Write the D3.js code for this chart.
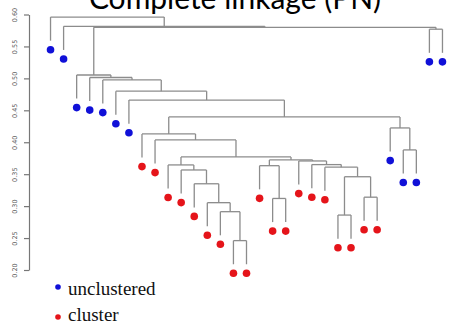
<!DOCTYPE html>
<html>
<head>
<meta charset="utf-8">
<script src="https://cdn.jsdelivr.net/npm/d3@7"></script>
<style>
  html, body { margin: 0; padding: 0; background: #fff; }
  svg { display: block; }
</style>
</head>
<body>
<svg id="chart" width="451" height="326"></svg>
<script>
// ---- data ----
const title = "Complete linkage (PN)";
// leaf groups in dendrogram display order (1..31)
const leafGroups = [
  "unclustered","unclustered","unclustered","unclustered","unclustered","unclustered","unclustered",
  "cluster","cluster","cluster","cluster","cluster","cluster","cluster","cluster","cluster",
  "cluster","cluster","cluster","cluster","cluster","cluster","cluster","cluster","cluster","cluster",
  "unclustered","unclustered","unclustered","unclustered","unclustered"
];
// hclust-style merges: negative = leaf index (1-based), positive = earlier merge row (1-based)
const mergeLeft  = [-15,-23,-14,-13,-18,-25,-12, 2,-11,-22,-17,-10,-21,-20,11,12,-28, -9, -8,-27,19,-7,-6,-5,-4,-3,-30,26,-2,-1];
const mergeRight = [-16,-24,  1,  3,-19,-26,  4, 6,  7,  8,  5,  9, 10, 13,14,15,-29, 16, 18, 17,20,21,22,23,24,25,-31,27,28,29];
const mergeHeight = [0.246,0.286,0.2913,0.3054,0.312,0.314,0.335,0.346,0.3566,0.361,0.3633,0.3645,0.365,0.3707,0.3723,
                     0.377,0.388,0.4036,0.413,0.4224,0.4396,0.466,0.480,0.4975,0.5014,0.5053,0.577,0.580,0.5815,0.596];
const hang = 0.037;
const yTicks = [0.20,0.25,0.30,0.35,0.40,0.45,0.50,0.55,0.60];
const legendLabels = ["unclustered","cluster"];
const groupColors = { unclustered: "#1010d8", cluster: "#e5141a" };

// ---- build tree ----
function buildNode(ref) {
  if (ref < 0) return { leaf: -ref, group: leafGroups[-ref - 1] };
  const i = ref - 1;
  return { height: mergeHeight[i], children: [buildNode(mergeLeft[i]), buildNode(mergeRight[i])] };
}
const rootData = buildNode(mergeLeft.length);
const root = d3.hierarchy(rootData);
d3.cluster().size([1, 1]).separation(() => 1)(root);

const svg = d3.select("#chart");
const x = d3.scaleLinear().domain([0, 1]).range([44, 449]);
const y = d3.scaleLinear().domain([0.20, 0.60]).range([270, 14.5]);

// title (partly cut off at top, as in the reference)
svg.append("text")
  .attr("x", 235).attr("y", 9)
  .attr("text-anchor", "middle")
  .attr("font-family", "Lato, 'Open Sans', sans-serif")
  .attr("font-size", 30)
  .attr("fill", "#000")
  .text(title);

// axis
const axis = d3.axisLeft(y).tickValues(yTicks).tickFormat(d3.format(".2f")).tickSize(5).tickSizeOuter(0);
const gAxis = svg.append("g").attr("transform", "translate(29,0)").call(axis);
gAxis.select(".domain").attr("stroke", "#777").attr("stroke-width", 1.2);
gAxis.selectAll(".tick line").attr("stroke", "#777").attr("stroke-width", 1.2);
gAxis.selectAll(".tick text")
  .attr("transform", "rotate(-90)")
  .attr("x", 0).attr("y", -12).attr("dy", null)
  .attr("text-anchor", "middle")
  .attr("font-family", "'DejaVu Sans', sans-serif")
  .attr("font-size", 6.5)
  .attr("fill", "#555");

// dendrogram segments
const lineColor = "#8c8c8c";
const gTree = svg.append("g").attr("fill", "none").attr("stroke", lineColor).attr("stroke-width", 1.3);
root.each(node => {
  if (!node.children) return;
  const hy = y(node.data.height);
  const [a, b] = node.children;
  gTree.append("line").attr("x1", x(a.x)).attr("x2", x(b.x)).attr("y1", hy).attr("y2", hy);
  node.children.forEach(c => {
    const cy = c.children ? y(c.data.height) : y(node.data.height - hang);
    gTree.append("line").attr("x1", x(c.x)).attr("x2", x(c.x)).attr("y1", hy).attr("y2", cy);
  });
});

// leaf dots
root.leaves().forEach(leaf => {
  const ly = y(leaf.parent.data.height - hang) + 9;
  svg.append("circle")
    .attr("cx", x(leaf.x)).attr("cy", ly).attr("r", 3.8)
    .attr("fill", groupColors[leaf.data.group]);
});

// legend
const legendDotY = [287, 317];
const legendTextY = [295, 321];
const legend = svg.append("g");
legendLabels.forEach((lab, i) => {
  legend.append("circle").attr("cx", 58).attr("cy", legendDotY[i]).attr("r", 2.8).attr("fill", groupColors[lab]);
  legend.append("text")
    .attr("x", 68).attr("y", legendTextY[i])
    .attr("font-family", "'Liberation Serif', 'DejaVu Serif', serif")
    .attr("font-size", 19)
    .attr("fill", "#111")
    .text(lab);
});
</script>
</body>
</html>
